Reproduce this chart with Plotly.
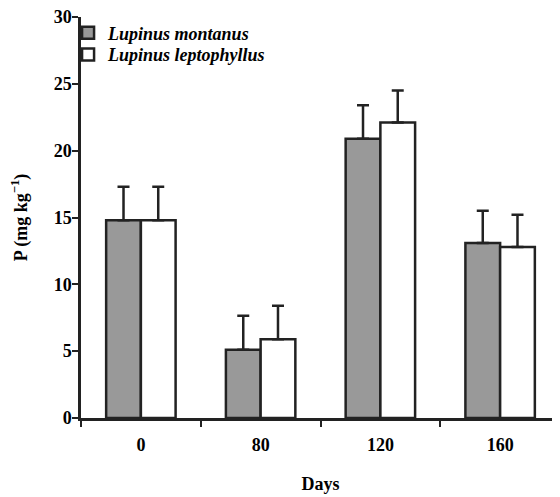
import plotly.graph_objects as go

days = ["0", "80", "120", "160"]
montanus = [14.8, 5.1, 20.9, 13.1]
montanus_err = [2.5, 2.55, 2.5, 2.4]
leptophyllus = [14.8, 5.9, 22.1, 12.8]
leptophyllus_err = [2.5, 2.5, 2.4, 2.4]
y_ticks = [0, 5, 10, 15, 20, 25, 30]

dark = "#222222"
font_family = "Liberation Serif"

fig = go.Figure()
for name, vals, errs, fill, lg in [
    ("Lupinus montanus", montanus, montanus_err, "#999999", "legend"),
    ("Lupinus leptophyllus", leptophyllus, leptophyllus_err, "#ffffff", "legend2"),
]:
    fig.add_trace(go.Bar(
        x=days, y=vals, name=name, legend=lg,
        marker=dict(color=fill, line=dict(color=dark, width=2.5)),
        error_y=dict(type="data", symmetric=False, array=errs,
                     arrayminus=[0] * len(errs), color=dark,
                     thickness=2.5, width=6),
    ))

leg_common = dict(x=-0.027, xanchor="left", yanchor="middle",
                  font=dict(family=font_family, size=18, style="italic", weight="bold"),
                  bgcolor="rgba(0,0,0,0)", itemwidth=30)

fig.update_layout(
    width=560, height=497,
    margin=dict(l=73, r=8, t=7, b=87),
    plot_bgcolor="white", paper_bgcolor="white",
    barmode="group", bargap=0.42, bargroupgap=0,
    font=dict(family=font_family, size=18, color="black"),
    showlegend=True,
    legend=dict(y=0.960, **leg_common),
    legend2=dict(y=0.906, **leg_common),
    xaxis=dict(type="category", tickson="boundaries", ticks="outside",
               ticklen=6, tickwidth=2, tickcolor=dark, automargin=False,
               showline=True, linecolor=dark, linewidth=2.5, ticklabelstandoff=9,
               ticklabeloverflow="allow",
               tickfont=dict(family=font_family, size=18, weight="bold"),
               title=dict(text="Days", font=dict(family=font_family, size=18, weight="bold"), standoff=24),
               showgrid=False, zeroline=False),
    yaxis=dict(range=[0, 30], tickvals=y_ticks, ticks="outside",
               ticklen=6, tickwidth=2, tickcolor=dark, automargin=False,
               showline=True, linecolor=dark, linewidth=2.5, ticklabelstandoff=-3,
               ticklabeloverflow="allow",
               tickfont=dict(family=font_family, size=18, weight="bold"),
               title=dict(text="P (mg kg<sup>−1</sup>)", font=dict(family=font_family, size=18, weight="bold"), standoff=24),
               showgrid=False, zeroline=False),
)

fig.write_html("out.html")
